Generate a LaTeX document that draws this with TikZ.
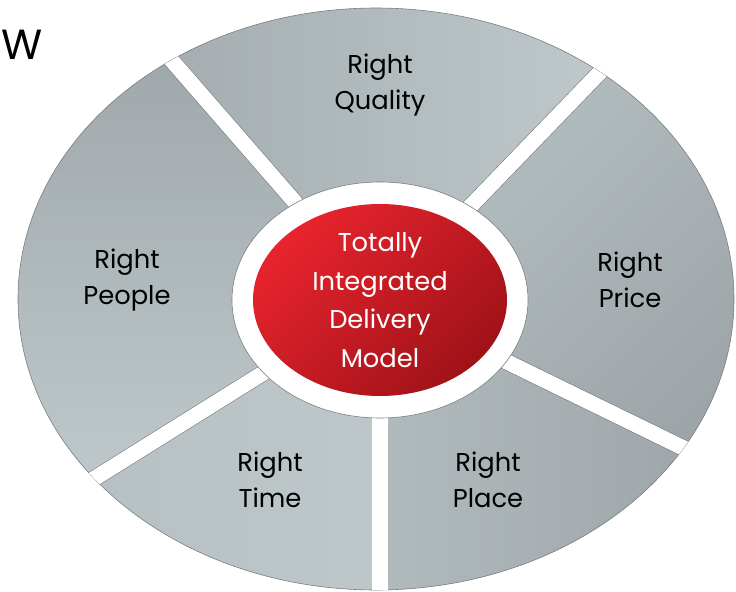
\documentclass[tikz,border=0pt]{standalone}
\usepackage{fontspec}
\setmainfont{Poppins}
\definecolor{greydark}{RGB}{156,164,168}
\definecolor{greylight}{RGB}{198,208,210}
\definecolor{greyedge}{RGB}{118,124,128}
\definecolor{redlight}{RGB}{232,36,46}
\definecolor{reddark}{RGB}{160,18,24}

\begin{document}
\begin{tikzpicture}[x=0.03cm,y=0.03cm,
    seglabel/.style={align=center,font=\fontsize{22}{31}\selectfont,text=black},
    corelabel/.style={align=center,font=\fontsize{22}{33}\selectfont,text=white},
    gap/.style={draw=greyedge,line width=0.5pt,double=white,double distance=0.46cm}]
	% picture frame
	\useasboundingbox (-380,-291) rectangle (356,300);
	% quality segment
	\begin{scope}
		\clip (0,0) -- (46:600) -- (131:600) -- cycle;
		\shade[left color=greydark,right color=greylight] (-4,1) ellipse [x radius=358,y radius=291];
	\end{scope}
	% people segment
	\begin{scope}
		\clip (0,0) -- (131:600) -- (212:600) -- cycle;
		\shade[top color=greydark,bottom color=greylight] (-4,1) ellipse [x radius=358,y radius=291];
	\end{scope}
	% time segment
	\begin{scope}
		\clip (0,0) -- (212:600) -- (270:600) -- cycle;
		\shade[left color=greydark!40!greylight,right color=greylight] (-4,1) ellipse [x radius=358,y radius=291];
	\end{scope}
	% place segment
	\begin{scope}
		\clip (0,0) -- (270:600) -- (334:600) -- cycle;
		\shade[left color=greylight,right color=greydark] (-4,1) ellipse [x radius=358,y radius=291];
	\end{scope}
	% price segment
	\begin{scope}
		\clip (0,0) -- (-26:600) -- (46:600) -- cycle;
		\shade[top color=greylight,bottom color=greydark,shading angle=45] (-4,1) ellipse [x radius=358,y radius=291];
	\end{scope}
	% outer rim
	\draw[greyedge,line width=0.5pt] (-4,1) ellipse [x radius=358,y radius=291];
	% white gaps between segments
	\begin{scope}
		\clip (-4,1) ellipse [x radius=358,y radius=291];
		\foreach \a in {46,131,212,270,334}
			\draw[gap] (0,0) -- (\a:600);
	\end{scope}
	% white ring and red core
	\draw[greyedge,fill=white,line width=0.5pt] (0,0) ellipse [x radius=148,y radius=118];
	\shade[top color=redlight,bottom color=reddark,shading angle=45] (0,0) ellipse [x radius=127,y radius=96];
	% labels
	\node[seglabel] (quality) at (0,215) {Right\\Quality};
	\node[seglabel] (people) at (-253,20) {Right\\People};
	\node[seglabel] (price) at (250,20) {Right\\Price};
	\node[seglabel] (time) at (-110,-180) {Right\\Time};
	\node[seglabel] (place) at (108,-180) {Right\\Place};
	\node[corelabel] (core) at (0,0) {Totally\\Integrated\\Delivery\\Model};
	% heading letter at the top left
	\node[anchor=north west,inner sep=0pt,font=\fontsize{36}{36}\selectfont] (heading) at (-379,270) {W};
\end{tikzpicture}
\end{document}
